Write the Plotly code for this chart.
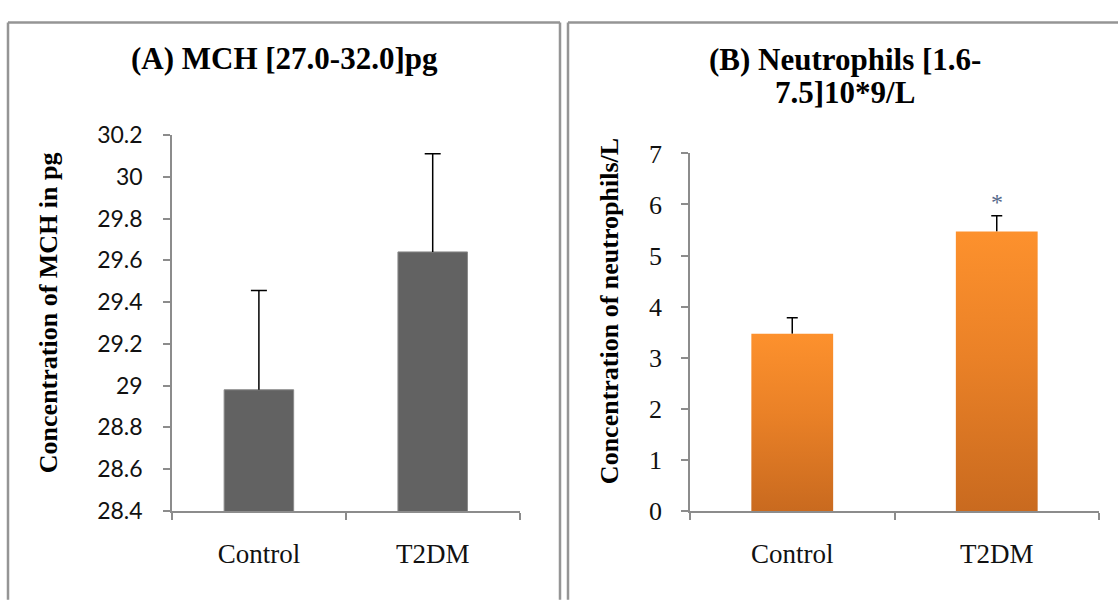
import plotly.graph_objects as go

# ---- data -------------------------------------------------------------
categories = ["Control", "T2DM"]

mch_mean = [28.98, 29.64]
mch_sd = [0.475, 0.47]
mch_ticks = [28.4, 28.6, 28.8, 29.0, 29.2, 29.4, 29.6, 29.8, 30.0, 30.2]
mch_ticktext = ["28.4", "28.6", "28.8", "29", "29.2", "29.4", "29.6", "29.8", "30", "30.2"]

neut_mean = [3.47, 5.47]
neut_sd = [0.31, 0.31]
neut_ticks = [0, 1, 2, 3, 4, 5, 6, 7]
neut_significance = ["", "*"]

title_a = "(A) MCH [27.0-32.0]pg"
title_b = ["(B) Neutrophils [1.6-", "7.5]10*9/L"]
ytitle_a = "Concentration of MCH in pg"
ytitle_b = "Concentration of neutrophils/L"

# ---- geometry helpers -------------------------------------------------
W, H = 1118, 609


def px(x):
    return x / W


def py(y):
    return 1 - y / H


SERIF = "Liberation Serif, Times New Roman, serif"
SANS = "Lato, Open Sans, sans-serif"
AXIS_GREY = "#8c8c8c"
BAR_HALF = 0.2          # half bar width in category units
pos = list(range(len(categories)))
bounds = [p - 0.5 for p in pos] + [pos[-1] + 0.5]

fig = go.Figure()

# ---- panel A: MCH (solid grey bars) -----------------------------------
fig.add_trace(go.Bar(
    x=pos, y=mch_mean, width=2 * BAR_HALF,
    marker=dict(color="#626262", line=dict(color="#8a8a8a", width=1)),
    error_y=dict(type="data", symmetric=False, array=mch_sd,
                 arrayminus=[0] * len(mch_sd), color="black",
                 thickness=1.5, width=0),
    xaxis="x", yaxis="y", showlegend=False, hoverinfo="skip",
))
# caps on top of the SD whiskers
fig.add_trace(go.Scatter(
    x=pos, y=[m + s for m, s in zip(mch_mean, mch_sd)], mode="markers",
    marker=dict(size=1, opacity=0),
    error_y=dict(type="data", array=[0] * len(pos), color="black",
                 thickness=1.5, width=8),
    xaxis="x", yaxis="y", showlegend=False, hoverinfo="skip",
))

# ---- panel B: neutrophils (orange gradient bars) ----------------------
fig.add_trace(go.Scatter(
    x=pos, y=neut_mean, mode="markers",
    marker=dict(size=1, opacity=0),
    error_y=dict(type="data", symmetric=False, array=neut_sd,
                 arrayminus=[0] * len(neut_sd), color="black",
                 thickness=1.5, width=0),
    xaxis="x2", yaxis="y2", showlegend=False, hoverinfo="skip",
))
for p, v in zip(pos, neut_mean):
    fig.add_trace(go.Scatter(
        x=[p - BAR_HALF, p - BAR_HALF, p + BAR_HALF, p + BAR_HALF, p - BAR_HALF],
        y=[0, v, v, 0, 0],
        mode="lines", line=dict(width=0), fill="toself",
        fillgradient=dict(type="vertical",
                          colorscale=[[0, "#c96a1f"], [0.55, "#ea8127"], [1, "#fd912d"]]),
        xaxis="x2", yaxis="y2", showlegend=False, hoverinfo="skip",
    ))
fig.add_trace(go.Scatter(
    x=pos, y=[m + s for m, s in zip(neut_mean, neut_sd)], mode="markers",
    marker=dict(size=1, opacity=0),
    error_y=dict(type="data", array=[0] * len(pos), color="black",
                 thickness=1.5, width=5.5),
    xaxis="x2", yaxis="y2", showlegend=False, hoverinfo="skip",
))

# significance marks above the whiskers
annotations = []
for p, m, s, mark in zip(pos, neut_mean, neut_sd, neut_significance):
    if mark:
        annotations.append(dict(
            x=p, y=m + s, xref="x2", yref="y2", text=mark, showarrow=False,
            yanchor="middle", yshift=14,
            font=dict(family=SERIF, size=24, color="#55698a")))

# ---- axes ---------------------------------------------------------------
def x_axis(domain, anchor):
    return dict(
        domain=domain, anchor=anchor, type="linear", range=[-0.5, 1.5],
        tickmode="array", tickvals=pos, ticktext=categories, ticks="",
        ticklabelstandoff=18,
        tickfont=dict(family=SERIF, size=27, color="#111111"),
        showline=True, linecolor=AXIS_GREY, linewidth=1.5,
        showgrid=False, zeroline=False, fixedrange=True,
        minor=dict(tickmode="array", tickvals=bounds, ticks="outside",
                   ticklen=7, tickwidth=1.5, tickcolor=AXIS_GREY, showgrid=False),
    )


fig.update_layout(
    width=W, height=H, autosize=False,
    margin=dict(l=0, r=0, t=0, b=0),
    paper_bgcolor="white", plot_bgcolor="white",
    xaxis=x_axis([px(172), px(519.6)], "y"),
    yaxis=dict(
        domain=[py(521.6), py(126.2)], anchor="x", range=[28.4, 30.2],
        tickmode="array", tickvals=mch_ticks, ticktext=mch_ticktext,
        ticks="outside", ticklen=7, tickwidth=1.5, tickcolor=AXIS_GREY,
        ticklabelstandoff=16,
        tickfont=dict(family=SANS, size=23, color="#111111"),
        showline=True, linecolor=AXIS_GREY, linewidth=1.5,
        showgrid=False, zeroline=False, fixedrange=True,
    ),
    xaxis2=x_axis([px(690), px(1099)], "y2"),
    yaxis2=dict(
        domain=[py(521.6), py(145.6)], anchor="x2", range=[0, 7],
        tickmode="array", tickvals=neut_ticks,
        ticks="outside", ticklen=7, tickwidth=1.5, tickcolor=AXIS_GREY,
        ticklabelstandoff=14,
        tickfont=dict(family=SERIF, size=26, color="#111111"),
        showline=True, linecolor=AXIS_GREY, linewidth=1.5,
        showgrid=False, zeroline=False, fixedrange=True,
    ),
)

# ---- titles -------------------------------------------------------------
title_font = dict(family=SERIF, size=31, color="black")
annotations.append(dict(x=px(284.8), y=py(46), xref="paper", yref="paper",
                        text="<b>%s</b>" % title_a, showarrow=False,
                        xanchor="center", yanchor="middle", font=title_font))
for line, yc in zip(title_b, [46.6, 81.6]):
    annotations.append(dict(x=px(844.6), y=py(yc), xref="paper", yref="paper",
                            text="<b>%s</b>" % line, showarrow=False,
                            xanchor="center", yanchor="middle", font=title_font))

ytitle_font = dict(family=SERIF, size=26, color="black")
annotations.append(dict(x=px(48), y=py(313.6), xref="paper", yref="paper",
                        text="<b>%s</b>" % ytitle_a, textangle=-90, showarrow=False,
                        xanchor="center", yanchor="middle", font=ytitle_font))
annotations.append(dict(x=px(609.8), y=py(311.7), xref="paper", yref="paper",
                        text="<b>%s</b>" % ytitle_b, textangle=-90, showarrow=False,
                        xanchor="center", yanchor="middle", font=ytitle_font))
fig.update_layout(annotations=annotations)

# ---- panel frames -------------------------------------------------------
frame = dict(color="#959595", width=2.5)
shapes = [
    # panel A: left, top and right edges
    dict(type="line", xref="paper", yref="paper", x0=px(8), x1=px(8), y0=py(8), y1=py(615), line=frame),
    dict(type="line", xref="paper", yref="paper", x0=px(8), x1=px(560), y0=py(8), y1=py(8), line=frame),
    dict(type="line", xref="paper", yref="paper", x0=px(560), x1=px(560), y0=py(8), y1=py(615), line=frame),
    # panel B: left and top edges
    dict(type="line", xref="paper", yref="paper", x0=px(568), x1=px(568), y0=py(8), y1=py(615), line=frame),
    dict(type="line", xref="paper", yref="paper", x0=px(568), x1=px(1125), y0=py(8), y1=py(8), line=frame),
]
fig.update_layout(shapes=shapes)

fig.write_html("out.html")
